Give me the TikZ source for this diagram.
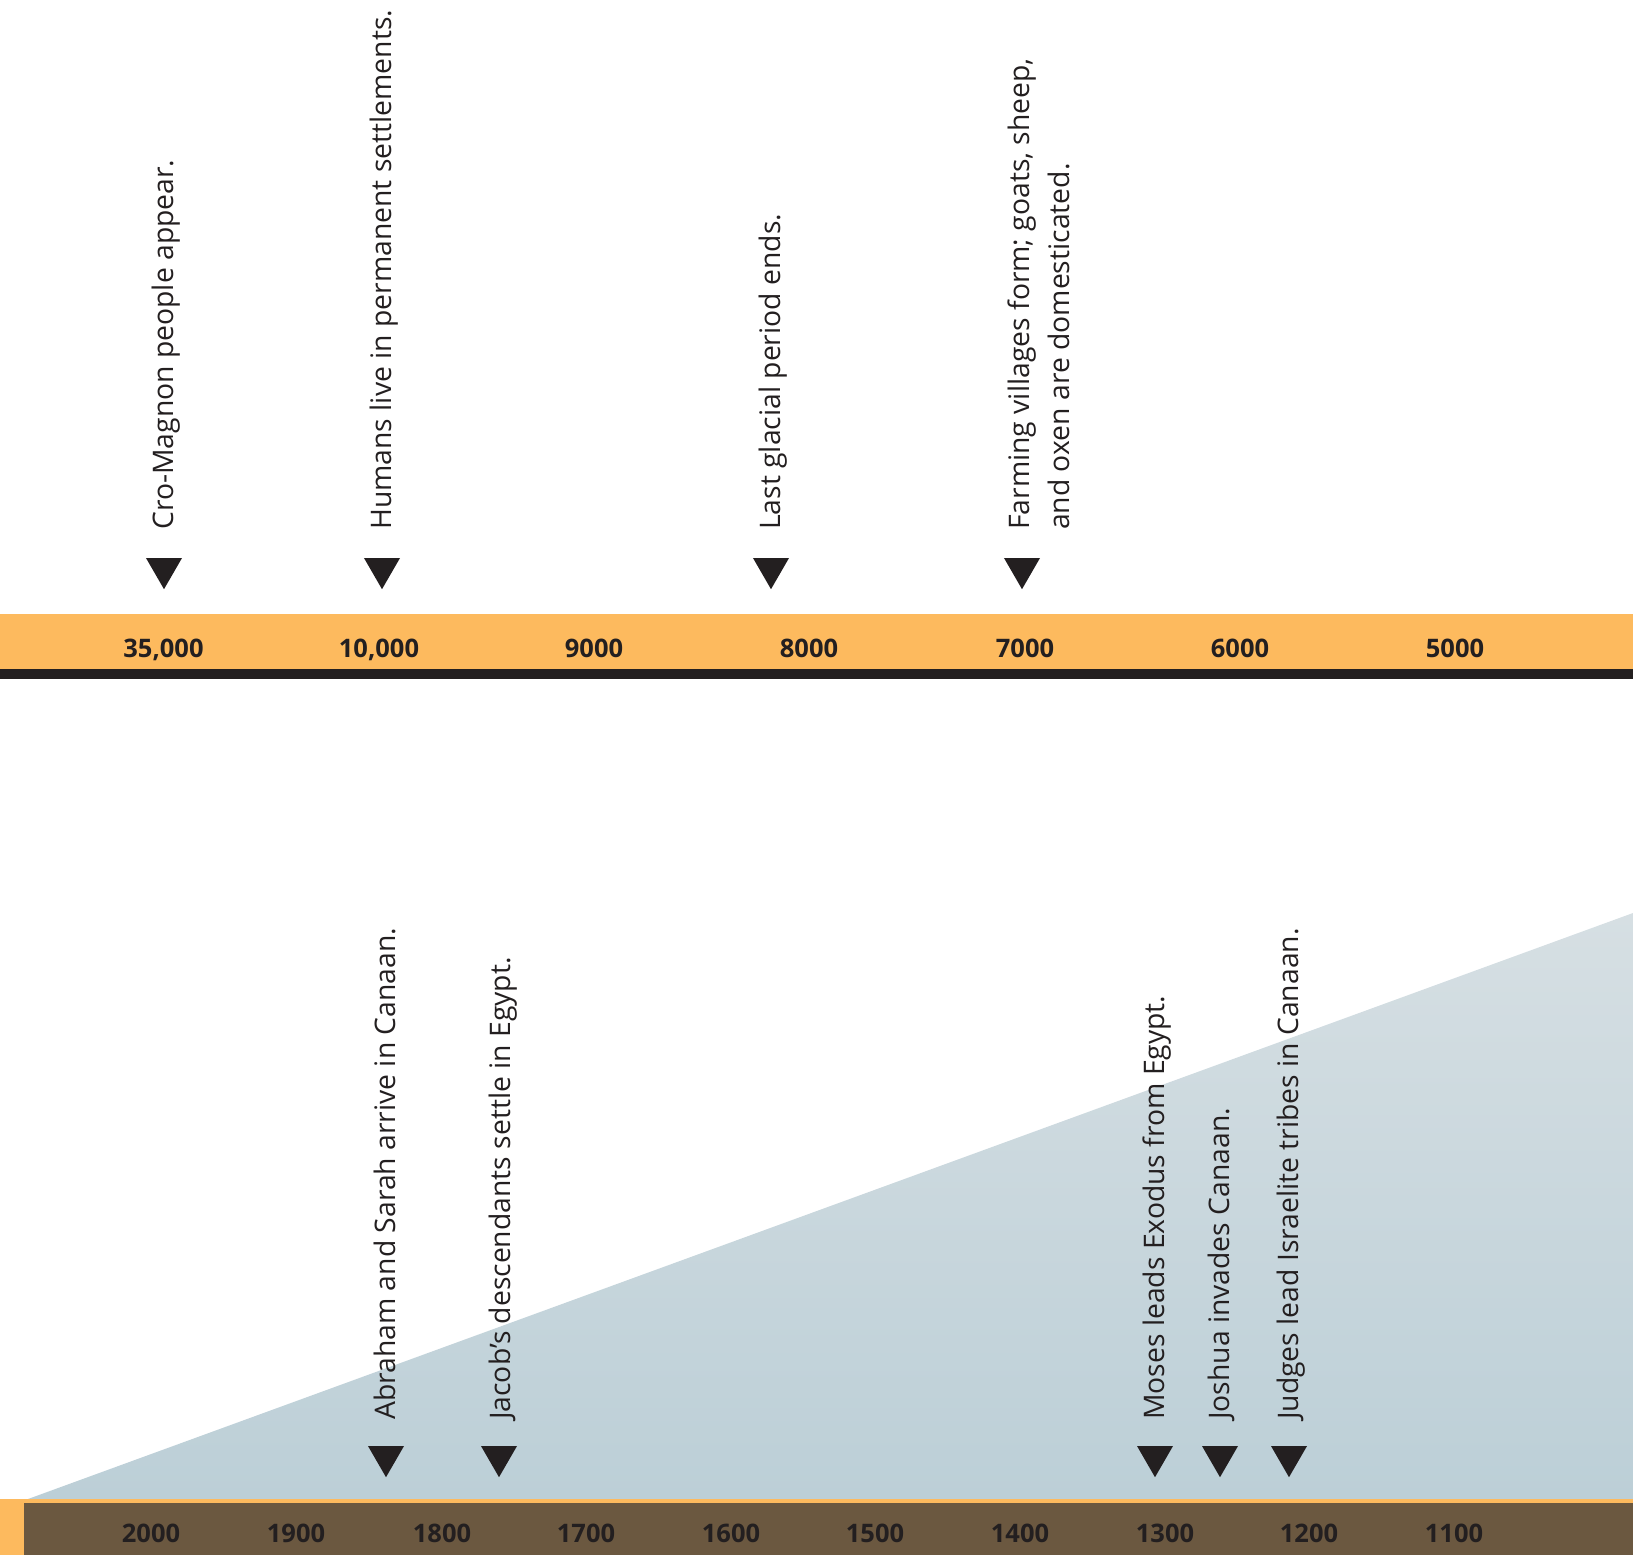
\documentclass[tikz,border=0pt]{standalone}
\usepackage{fontspec}
\setmainfont{Open Sans}
\usetikzlibrary{shapes.geometric, calc}
\definecolor{barorange}{RGB}{253,186,94}
\definecolor{inkblack}{RGB}{35,31,32}
\definecolor{barbrown}{RGB}{107,88,64}
\definecolor{skytop}{RGB}{214,223,227}
\definecolor{skybottom}{RGB}{188,207,215}
\tikzset{
  marker/.style={
    regular polygon, regular polygon sides=3, shape border rotate=180,
    fill=inkblack, minimum size=41.6pt, inner sep=0pt, outer sep=0pt
  },
  event/.style={
    rotate=90, anchor=north west, inner sep=0pt, align=left,
    text=inkblack, font=\fontsize{28.3}{40}\selectfont
  },
  year/.style={
    anchor=base, inner sep=0pt, text=inkblack,
    font=\fontsize{25.5}{30}\selectfont\bfseries
  }
}

\begin{document}
\begin{tikzpicture}[x=1pt, y=-1pt]
\useasboundingbox (0,0) rectangle (1633,1555);

% Backdrop wedge
\shade[top color=skytop, bottom color=skybottom]
  (28,1499) -- (1633,913) -- (1633,1499) -- cycle;

% Upper time bar
\fill[barorange] (0,614) rectangle (1633,669);
\fill[inkblack] (0,669) rectangle (1633,679);

% Lower time bar
\fill[barorange] (0,1499) rectangle (1633,1555);
\fill[barbrown] (24,1503) rectangle (1633,1555);

% Upper years
\node[year] (y35000) at (163.5,657) {35,000};
\node[year] (y10000) at (379,657) {10,000};
\node[year] (y9000) at (594,657) {9000};
\node[year] (y8000) at (809,657) {8000};
\node[year] (y7000) at (1025,657) {7000};
\node[year] (y6000) at (1240,657) {6000};
\node[year] (y5000) at (1455,657) {5000};

% Lower years
\node[year] (y2000) at (151,1542) {2000};
\node[year] (y1900) at (296,1542) {1900};
\node[year] (y1800) at (442,1542) {1800};
\node[year] (y1700) at (586,1542) {1700};
\node[year] (y1600) at (731,1542) {1600};
\node[year] (y1500) at (875,1542) {1500};
\node[year] (y1400) at (1020,1542) {1400};
\node[year] (y1300) at (1165,1542) {1300};
\node[year] (y1200) at (1309,1542) {1200};
\node[year] (y1100) at (1454,1542) {1100};

% Upper markers and events
\node[marker] (cro) at (164,568.4) {};
\node[marker] (settle) at (382,568.4) {};
\node[marker] (glacial) at (771,568.4) {};
\node[marker] (farming) at (1022,568.4) {};

\node[event] (crotext) at ($(cro.north)+(-12,-28)$) {Cro-Magnon people appear.};
\node[event] (settletext) at ($(settle.north)+(-12,-28)$)
  {Humans live in permanent settlements.};
\node[event] (glacialtext) at ($(glacial.north)+(-12,-28)$)
  {Last glacial period ends.};
\node[event] (farmingtext) at ($(farming.north)+(-14,-28)$)
  {Farming villages form; goats, sheep,\\and oxen are domesticated.};

% Lower markers and events
\node[marker] (abraham) at (386,1456.4) {};
\node[marker] (jacob) at (499,1456.4) {};
\node[marker] (moses) at (1155,1456.4) {};
\node[marker] (joshua) at (1220,1456.4) {};
\node[marker] (judges) at (1289,1456.4) {};

\node[event] (abrahamtext) at ($(abraham.north)+(-12,-26)$)
  {Abraham and Sarah arrive in Canaan.};
\node[event] (jacobtext) at ($(jacob.north)+(-10,-26)$)
  {Jacob’s descendants settle in Egypt.};
\node[event] (mosestext) at ($(moses.north)+(-12,-26)$)
  {Moses leads Exodus from Egypt.};
\node[event] (joshuatext) at ($(joshua.north)+(-12,-26)$)
  {Joshua invades Canaan.};
\node[event] (judgestext) at ($(judges.north)+(-12,-26)$)
  {Judges lead Israelite tribes in Canaan.};

\end{tikzpicture}
\end{document}
